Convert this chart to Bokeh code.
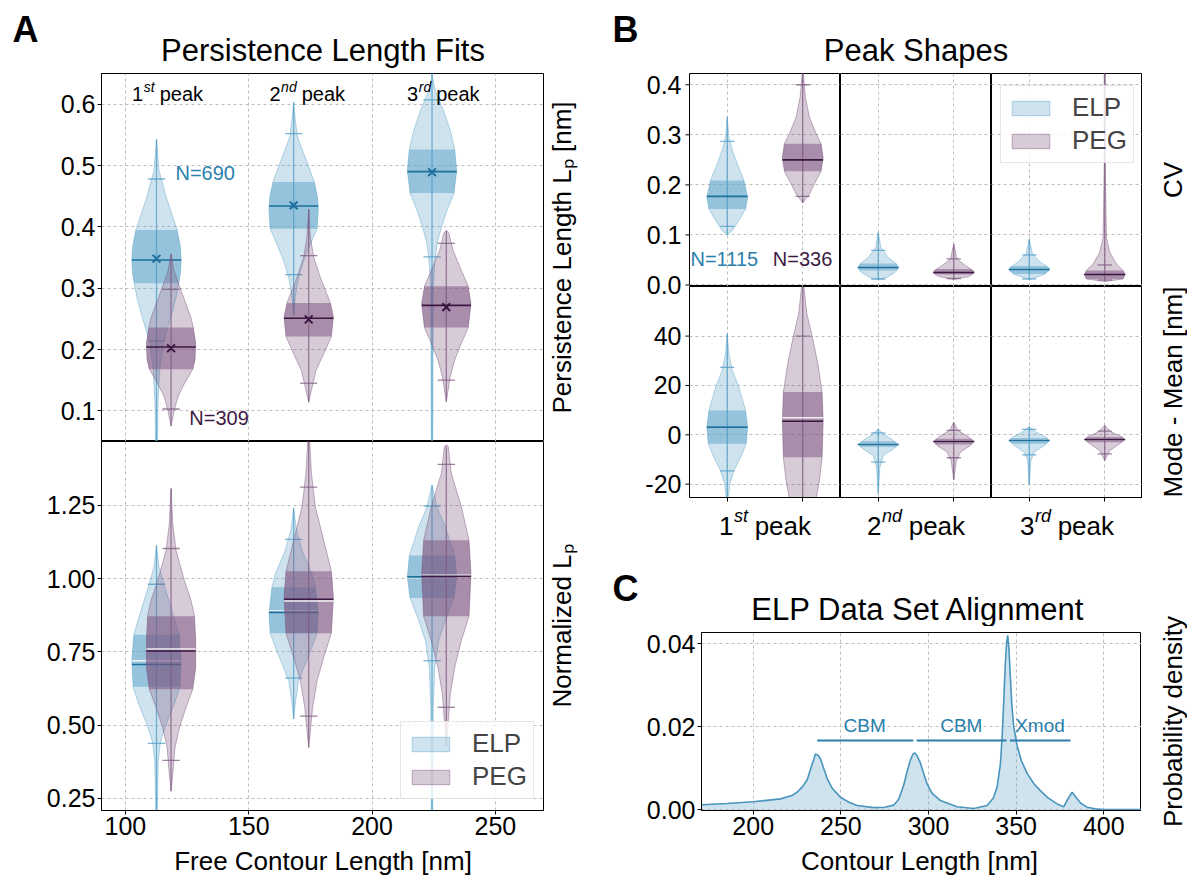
import numpy as np
from bokeh.plotting import figure
from bokeh.models import (Range1d, FixedTicker, Label, Legend, LegendItem, LinearAxis, Grid,
                          PrintfTickFormatter)
from bokeh.layouts import row, column
from bokeh.embed import file_html
from bokeh.resources import INLINE

FONT = "Liberation Sans"
TICK_SIZE = "25px"
LABEL_SIZE = "26px"
TITLE_SIZE = "31px"
LETTER_SIZE = "36px"

ELP_FILL, ELP_LINE, ELP_DARK, ELP_TEXT = "#5ca3c8", "#4f9cc6", "#1d6f9c", "#2a7fab"
PEG_FILL, PEG_LINE, PEG_DARK, PEG_TEXT = "#7a527d", "#7d5a80", "#3b1641", "#3d1a43"
GRID_COLOR = "#bdbdbd"

# ---------------------------------------------------------------- data
PEAK_NUM = ["1", "2", "3"]
PEAK_SUP = ["st", "nd", "rd"]

# Panel A: x = free contour length of each peak [nm]
A_X_ELP = [112.6, 168.2, 224.3]
A_X_PEG = [118.5, 174.3, 230.1]
A_HALF_WIDTH = 10.0
A_N_ELP, A_N_PEG = "N=690", "N=309"
A_PEAK_LABEL_X = [102.7, 158.4, 214.2]
A_PEAK_LABEL_Y = 0.617
A_X_TICKS = [100, 150, 200, 250]
A_TOP_Y_TICKS = [0.1, 0.2, 0.3, 0.4, 0.5, 0.6]
A_BOT_Y_TICKS = [0.25, 0.5, 0.75, 1.0, 1.25]

# Panel A top: persistence length [nm]; outlines (value, relative half width)
A_TOP_ELP_Y = [
    [0.543, 0.492, 0.448, 0.421, 0.395, 0.367, 0.345, 0.324, 0.308, 0.286, 0.264, 0.242, 0.210, 0.166, 0.112, 0.053, 0.0],
    [0.603, 0.573, 0.546, 0.513, 0.473, 0.448, 0.427, 0.397, 0.372, 0.345, 0.318, 0.286, 0.256],
    [0.660, 0.643, 0.622, 0.589, 0.557, 0.526, 0.492, 0.455, 0.427, 0.399, 0.372, 0.340, 0.302, 0.053, 0.0],
]
A_TOP_ELP_W = [
    [0, 0.10, 0.40, 0.62, 0.84, 0.97, 1.0, 0.97, 0.90, 0.80, 0.66, 0.50, 0.27, 0.13, 0.06, 0.04, 0.02],
    [0, 0.07, 0.16, 0.47, 0.84, 0.97, 1.0, 0.95, 0.68, 0.41, 0.20, 0.07, 0],
    [0, 0.02, 0.14, 0.47, 0.74, 0.92, 1.0, 0.89, 0.61, 0.38, 0.20, 0.11, 0.05, 0.03, 0.02],
]
A_TOP_PEG_Y = [
    [0.356, 0.329, 0.302, 0.275, 0.253, 0.236, 0.210, 0.183, 0.168, 0.145, 0.123, 0.101, 0.075],
    [0.429, 0.383, 0.351, 0.318, 0.276, 0.253, 0.221, 0.193, 0.166, 0.139, 0.114],
    [0.394, 0.390, 0.362, 0.329, 0.304, 0.275, 0.236, 0.210, 0.183, 0.156, 0.115],
]
A_TOP_PEG_W = [
    [0, 0.12, 0.35, 0.60, 0.80, 0.90, 1.0, 0.97, 0.88, 0.55, 0.28, 0.13, 0],
    [0, 0.07, 0.20, 0.47, 0.88, 1.0, 0.92, 0.61, 0.30, 0.14, 0],
    [0, 0.10, 0.27, 0.61, 0.88, 1.0, 0.89, 0.61, 0.34, 0.16, 0],
]
A_TOP_ELP_MAX = [0.543, 0.603, 0.66]
A_TOP_ELP_CAPHI = [0.478, 0.552, 0.607]
A_TOP_ELP_Q3 = [0.395, 0.473, 0.526]
A_TOP_ELP_MED = [0.346, 0.434, 0.490]
A_TOP_ELP_MEAN = [0.348, 0.435, 0.489]
A_TOP_ELP_Q1 = [0.308, 0.397, 0.455]
A_TOP_ELP_CAPLO = [0.214, 0.322, 0.351]
A_TOP_ELP_MIN = [0.0, 0.256, 0.0]
A_TOP_PEG_MAX = [0.356, 0.429, 0.394]
A_TOP_PEG_CAPHI = [0.298, 0.353, 0.373]
A_TOP_PEG_Q3 = [0.236, 0.276, 0.303]
A_TOP_PEG_MED = [0.204, 0.251, 0.272]
A_TOP_PEG_MEAN = [0.202, 0.249, 0.269]
A_TOP_PEG_Q1 = [0.168, 0.221, 0.236]
A_TOP_PEG_CAPLO = [0.103, 0.145, 0.150]
A_TOP_PEG_MIN = [0.075, 0.114, 0.115]

# Panel A bottom: normalized persistence length
A_BOT_ELP_Y = [
    [1.114, 1.040, 0.981, 0.926, 0.857, 0.809, 0.720, 0.631, 0.572, 0.515, 0.469, 0.438, 0.378, 0.209, 0.0],
    [1.240, 1.166, 1.097, 1.017, 0.971, 0.880, 0.814, 0.766, 0.709, 0.652, 0.583, 0.521],
    [1.320, 1.245, 1.177, 1.079, 1.006, 0.934, 0.857, 0.789, 0.697, 0.561, 0.209, 0.0],
]
A_BOT_ELP_W = [
    [0, 0.10, 0.30, 0.50, 0.75, 0.92, 1.0, 0.95, 0.72, 0.45, 0.25, 0.15, 0.07, 0.03, 0.02],
    [0, 0.11, 0.34, 0.74, 0.88, 1.0, 0.95, 0.74, 0.47, 0.20, 0.08, 0],
    [0, 0.20, 0.54, 0.92, 1.0, 0.89, 0.54, 0.27, 0.11, 0.05, 0.03, 0.02],
]
A_BOT_PEG_Y = [
    [1.308, 1.188, 1.097, 0.994, 0.926, 0.872, 0.789, 0.697, 0.623, 0.561, 0.492, 0.424, 0.332, 0.275],
    [1.55, 1.468, 1.360, 1.245, 1.131, 1.025, 0.937, 0.814, 0.732, 0.652, 0.561, 0.492, 0.424],
    [1.457, 1.451, 1.360, 1.245, 1.131, 1.017, 0.872, 0.789, 0.697, 0.606, 0.503, 0.429],
]
A_BOT_PEG_W = [
    [0, 0.07, 0.20, 0.54, 0.81, 0.95, 1.0, 1.0, 0.88, 0.61, 0.34, 0.16, 0.07, 0],
    [0, 0.04, 0.11, 0.27, 0.61, 0.92, 1.0, 0.92, 0.61, 0.34, 0.16, 0.08, 0],
    [0, 0.08, 0.20, 0.61, 0.92, 1.0, 0.92, 0.61, 0.34, 0.16, 0.07, 0],
]
A_BOT_ELP_MAX = [1.114, 1.240, 1.320]
A_BOT_ELP_CAPHI = [0.981, 1.134, 1.248]
A_BOT_ELP_Q3 = [0.809, 0.971, 1.079]
A_BOT_ELP_MED = [0.707, 0.885, 1.006]
A_BOT_ELP_MEAN = [0.720, 0.890, 1.003]
A_BOT_ELP_Q1 = [0.631, 0.814, 0.934]
A_BOT_ELP_CAPLO = [0.438, 0.661, 0.720]
A_BOT_ELP_MIN = [0.0, 0.521, 0.0]
A_BOT_PEG_MAX = [1.308, 1.55, 1.451]
A_BOT_PEG_CAPHI = [1.103, 1.312, 1.390]
A_BOT_PEG_Q3 = [0.872, 1.025, 1.131]
A_BOT_PEG_MED = [0.753, 0.930, 1.008]
A_BOT_PEG_MEAN = [0.760, 0.924, 1.012]
A_BOT_PEG_Q1 = [0.623, 0.814, 0.872]
A_BOT_PEG_CAPLO = [0.380, 0.531, 0.561]
A_BOT_PEG_MIN = [0.275, 0.424, 0.429]

# Panel B: ELP at x=0, PEG at x=1 in each peak column
B_HALF_WIDTH = 0.27
B_N_ELP, B_N_PEG = "N=1115", "N=336"
B_TOP_TICKS = [0.0, 0.1, 0.2, 0.3, 0.4]
B_TOP_TICK_LABELS = ["0.0", "0.1", "0.2", "0.3", "0.4"]
B_BOT_TICKS = [-20, 0, 20, 40]
B_BOT_TICK_LABELS = ["-20", "0", "20", "40"]
B_TOP_ELP_Y = [
    [0.335, 0.295, 0.269, 0.242, 0.209, 0.175, 0.152, 0.129, 0.109, 0.100],
    [0.105, 0.075, 0.055, 0.042, 0.034, 0.025, 0.015, 0.011],
    [0.092, 0.062, 0.045, 0.035, 0.030, 0.021, 0.011],
]
B_TOP_ELP_W = [
    [0, 0.08, 0.25, 0.49, 0.82, 1.0, 0.90, 0.57, 0.25, 0],
    [0, 0.13, 0.49, 0.90, 1.0, 0.82, 0.41, 0],
    [0, 0.16, 0.57, 0.95, 1.0, 0.74, 0],
]
B_TOP_PEG_Y = [
    [0.43, 0.421, 0.375, 0.335, 0.302, 0.282, 0.255, 0.227, 0.202, 0.182, 0.164],
    [0.082, 0.052, 0.039, 0.029, 0.024, 0.017, 0.011],
    [0.43, 0.229, 0.095, 0.065, 0.042, 0.029, 0.021, 0.012, 0.007],
]
B_TOP_PEG_W = [
    [0, 0.03, 0.13, 0.33, 0.66, 0.90, 1.0, 0.90, 0.57, 0.33, 0],
    [0, 0.16, 0.57, 0.95, 1.0, 0.74, 0],
    [0.03, 0.03, 0.08, 0.25, 0.57, 0.90, 1.0, 0.90, 0],
]
B_TOP_ELP_MAX = [0.335, 0.105, 0.092]
B_TOP_ELP_CAPHI = [0.287, 0.069, 0.060]
B_TOP_ELP_Q3 = [0.209, 0.043, 0.038]
B_TOP_ELP_MED = [0.177, 0.035, 0.031]
B_TOP_ELP_Q1 = [0.152, 0.029, 0.022]
B_TOP_ELP_CAPLO = [0.117, 0.012, 0.012]
B_TOP_ELP_MIN = [0.100, 0.011, 0.011]
B_TOP_PEG_MAX = [0.43, 0.082, 0.43]
B_TOP_PEG_CAPHI = [0.400, 0.052, 0.040]
B_TOP_PEG_Q3 = [0.282, 0.032, 0.029]
B_TOP_PEG_MED = [0.250, 0.025, 0.021]
B_TOP_PEG_Q1 = [0.227, 0.021, 0.012]
B_TOP_PEG_CAPLO = [0.177, 0.013, 0.010]
B_TOP_PEG_MIN = [0.164, 0.011, 0.007]

B_BOT_ELP_Y = [
    [40.9, 32.8, 26.1, 19.3, 9.9, 3.1, -3.6, -9.1, -14.5, -19.9, -25.5, -35.0],
    [2.4, 0.4, -2.3, -3.9, -5.7, -8.4, -13.1, -23.9],
    [3.4, 1.1, -0.9, -2.3, -4.3, -7.0, -10.4, -20.1],
]
B_BOT_ELP_W = [
    [0, 0.08, 0.25, 0.57, 0.90, 1.0, 0.93, 0.66, 0.33, 0.13, 0.05, 0],
    [0, 0.25, 0.74, 1.0, 0.74, 0.25, 0.08, 0],
    [0, 0.33, 0.82, 1.0, 0.74, 0.25, 0.08, 0],
]
B_BOT_PEG_Y = [
    [62.0, 60.5, 49.1, 40.0, 28.8, 17.3, 5.8, -9.1, -18.5, -25.5, -32.0, -40.1],
    [5.1, 1.8, -0.9, -2.7, -4.3, -7.0, -10.4, -18.2],
    [3.8, 1.1, -0.7, -1.9, -3.6, -6.4, -10.4],
]
B_BOT_PEG_W = [
    [0, 0.05, 0.20, 0.46, 0.74, 0.95, 1.0, 0.95, 0.82, 0.66, 0.41, 0],
    [0, 0.20, 0.74, 1.0, 0.82, 0.33, 0.13, 0],
    [0, 0.33, 0.82, 1.0, 0.74, 0.25, 0],
]
B_BOT_ELP_MAX = [40.9, 2.4, 3.4]
B_BOT_ELP_CAPHI = [27.3, 0.8, 2.2]
B_BOT_ELP_Q3 = [9.9, -2.6, -1.3]
B_BOT_ELP_MED = [3.1, -3.9, -2.3]
B_BOT_ELP_MEAN = [3.1, -3.9, -2.3]
B_BOT_ELP_Q1 = [-3.6, -4.9, -3.6]
B_BOT_ELP_CAPLO = [-14.6, -11.1, -8.1]
B_BOT_ELP_MIN = [-35.0, -23.9, -20.1]
B_BOT_PEG_MAX = [62.0, 5.1, 3.8]
B_BOT_PEG_CAPHI = [40.0, 1.8, 1.5]
B_BOT_PEG_Q3 = [17.3, -1.6, -0.9]
B_BOT_PEG_MED = [5.5, -2.7, -1.9]
B_BOT_PEG_MEAN = [6.9, -2.7, -1.9]
B_BOT_PEG_Q1 = [-9.1, -3.9, -3.0]
B_BOT_PEG_CAPLO = [-40.0, -9.3, -7.7]
B_BOT_PEG_MIN = [-45.0, -18.2, -10.4]

# Panel C: ELP contour length density
C_X = [170.5, 185, 200, 215.6, 222, 225, 228, 230.8, 232.5, 234.6, 235.5, 236.8, 238.4, 240, 242.2, 245,
       249.8, 255, 259.3, 268.8, 275, 280.2, 283, 285.9, 288, 289.7, 291, 292.1, 293.5, 295.4, 297, 299.2,
       302, 306.8, 316.3, 325.8, 333.4, 337, 339.1, 341, 342, 343, 343.8, 344.6, 345.2, 345.9, 346.7, 347.5,
       348.6, 350.5, 353, 356.2, 360, 363.8, 368, 373.3, 377.1, 379, 381.9, 384.7, 387, 390.4, 395, 400, 421.5]
C_Y = [0.0012, 0.0015, 0.0019, 0.0026, 0.0034, 0.0042, 0.0055, 0.0072, 0.0095, 0.0122, 0.0134, 0.0132, 0.0122,
       0.0102, 0.0075, 0.0052, 0.0030, 0.0017, 0.0010, 0.0005, 0.0006, 0.0011, 0.0025, 0.0060, 0.0095, 0.0120,
       0.0133, 0.0137, 0.0130, 0.0112, 0.0090, 0.0062, 0.0040, 0.0022, 0.0007, 0.0003, 0.0010, 0.0028, 0.0054,
       0.0110, 0.0175, 0.0270, 0.0350, 0.0405, 0.0420, 0.0385, 0.0320, 0.0255, 0.0200, 0.0155, 0.0118, 0.0088,
       0.0063, 0.0046, 0.0029, 0.0014, 0.0007, 0.0022, 0.0042, 0.0027, 0.0015, 0.0006, 0.0002, 0.0, 0.0]
C_X_TICKS = [200, 250, 300, 350, 400]
C_Y_TICKS = [0.0, 0.02, 0.04]
C_SEG_X0 = [236.5, 293.2, 346.4]
C_SEG_X1 = [291.3, 344.5, 381.0]
C_SEG_Y = 0.0167
C_SEG_LABELS = ["CBM", "CBM", "Xmod"]
C_SEG_LABEL_X = [263.6, 318.7, 363.6]
C_SEG_LABEL_Y = 0.0202

SUP_EM = {"st": 0.778, "nd": 1.112, "rd": 0.889}

# ---------------------------------------------------------------- geometry (px)
A_FW, A_TOP_FH, A_BOT_FH, A_ML, A_RW = 443, 368, 369, 101, 66
HDR_H, FOOT_H, AX_B = 73, 32, 35
B_FW, B_TOP_FH, B_BOT_FH, B_LW, B_RW, B_TICK_B = 151, 213, 211, 79, 45, 8
B_LBL_H, C_HDR_H, C_MT = 45, 82, 6
C_FW, C_FH, C_ML, C_RW = 440, 178, 91, 46
RIGHT_W = B_LW + 3 * B_FW + B_RW
LEFT_W = A_ML + A_FW + A_RW
B_TOP_YR = (-0.003, 0.4225)
B_BOT_YR = (-25.4, 60.1)


# ---------------------------------------------------------------- helpers
def base_fig(fw, fh, ml, mr, mt, mb, xr, yr):
    p = figure(frame_width=fw, frame_height=fh, x_range=Range1d(*xr), y_range=Range1d(*yr),
               x_axis_location=None, y_axis_location=None, toolbar_location=None, title=None,
               output_backend="svg", min_border_left=ml, min_border_right=mr,
               min_border_top=mt, min_border_bottom=mb)
    p.center = [r for r in p.center if not isinstance(r, Grid)]
    p.outline_line_color = "black"
    p.outline_line_width = 1
    p.outline_line_alpha = 1
    p.background_fill_color = "white"
    p.border_fill_color = "white"
    return p


def text_fig(w, h):
    p = figure(frame_width=w, frame_height=h, x_range=Range1d(0, w), y_range=Range1d(0, h),
               x_axis_location=None, y_axis_location=None, toolbar_location=None, title=None,
               output_backend="svg", min_border_left=0, min_border_right=0,
               min_border_top=0, min_border_bottom=0)
    p.center = [r for r in p.center if not isinstance(r, Grid)]
    p.outline_line_color = None
    p.background_fill_color = "white"
    p.border_fill_color = "white"
    return p


def add_axis(p, side, ticks, fmt=None, labels=True):
    ax = LinearAxis(ticker=FixedTicker(ticks=ticks))
    ax.major_tick_out = 4
    ax.major_tick_in = 0
    ax.minor_tick_out = 0
    ax.minor_tick_in = 0
    ax.major_tick_line_color = "black"
    ax.axis_line_color = "black"
    ax.major_label_standoff = 2
    ax.major_label_text_font = FONT
    ax.major_label_text_font_size = TICK_SIZE
    ax.major_label_text_color = "black"
    if fmt:
        ax.formatter = PrintfTickFormatter(format=fmt)
    if not labels:
        ax.major_label_text_font_size = "0px"
        ax.major_label_standoff = 0
        ax.major_label_overrides = {t: "" for t in ticks}
    p.add_layout(ax, side)
    return ax


def add_grid(p, dim, ticks):
    g = Grid(dimension=dim, ticker=FixedTicker(ticks=ticks), grid_line_color=GRID_COLOR,
             grid_line_dash="3 3", grid_line_width=1)
    p.add_layout(g, "center")


def lab(p, x, y, text, size=LABEL_SIZE, color="black", align="center", baseline="middle",
        angle=0.0, style="normal", xo=0, yo=0, yrn="default"):
    p.add_layout(Label(x=x, y=y, text=text, text_font=FONT, y_range_name=yrn,
                       text_font_size=size, text_color=color, text_align=align,
                       text_baseline=baseline, angle=angle, text_font_style=style,
                       x_offset=xo, y_offset=yo))


def peak_text(p, x, y, num, sup, size, align="left"):
    ssz = round(size * 0.7)
    w_num = 0.556 * size * len(num)
    w_sup = SUP_EM[sup] * ssz
    gap = 0.278 * size
    w_rest = 2.168 * size
    total = w_num + w_sup + gap + w_rest
    x0 = 0 if align == "left" else -total / 2
    lab(p, x, y, num, size=f"{size}px", align="left", xo=x0)
    lab(p, x, y, sup, size=f"{ssz}px", align="left", xo=x0 + w_num + 0.5, yo=0.36 * size,
        style="italic")
    lab(p, x, y, "peak", size=f"{size}px", align="left", xo=x0 + w_num + w_sup + gap)


def violin(p, xc, ys, ws, H, q1, q3, med, vmin, vmax, clo, chi, fill, line, dark,
           mean=None, mean_x=False, mean_line=False):
    ys = np.asarray(ys, float)
    ws = np.asarray(ws, float)
    px = np.concatenate([xc + ws * H, (xc - ws * H)[::-1]])
    py = np.concatenate([ys, ys[::-1]])
    body = p.patch(px, py, fill_color=fill, fill_alpha=0.3, line_color=fill, line_alpha=0.45,
                   line_width=1)
    o = np.argsort(ys)
    ys_s, ws_s = ys[o], ws[o]
    m = (ys_s > q1) & (ys_s < q3)
    by = np.concatenate([[q1], ys_s[m], [q3]])
    bw = np.interp(by, ys_s, ws_s)
    p.patch(np.concatenate([xc + bw * H, (xc - bw * H)[::-1]]), np.concatenate([by, by[::-1]]),
            fill_color=fill, fill_alpha=0.5, line_color=None)
    p.segment([xc], [vmin], [xc], [vmax], line_color=line, line_alpha=0.75, line_width=1.3)
    cw = 0.35 * H
    p.segment([xc - cw, xc - cw], [clo, chi], [xc + cw, xc + cw], [clo, chi],
              line_color=line, line_alpha=0.75, line_width=1.3)
    if mean_line and mean is not None:
        p.segment([xc - H], [mean], [xc + H], [mean], line_color="white", line_alpha=0.85,
                  line_width=1.5)
    p.segment([xc - H], [med], [xc + H], [med], line_color=dark, line_width=1.6)
    if mean_x and mean is not None:
        p.scatter([xc], [mean], marker="x", size=11, line_color=dark, line_width=2)
    return body


def make_legend(p, r_elp, r_peg, x, y):
    leg = Legend(items=[LegendItem(label="ELP", renderers=[r_elp]),
                        LegendItem(label="PEG", renderers=[r_peg])], location=(x, y))
    leg.label_text_font = FONT
    leg.label_text_font_size = LABEL_SIZE
    leg.glyph_width = 47
    leg.glyph_height = 18
    leg.label_standoff = 18
    leg.padding = 6
    leg.spacing = 2
    leg.margin = 0
    leg.border_line_color = "#cccccc"
    leg.border_line_width = 1
    leg.background_fill_alpha = 0.8
    p.add_layout(leg)


# ---------------------------------------------------------------- panel A
hdr_a = text_fig(LEFT_W, HDR_H)
lab(hdr_a, 12, HDR_H - 28.5, "A", size=LETTER_SIZE, align="left", style="bold")
lab(hdr_a, A_ML + A_FW / 2, HDR_H - 50, "Persistence Length Fits", size=TITLE_SIZE)

a_top = base_fig(A_FW, A_TOP_FH, A_ML, 0, 0, 0, (90.3, 269.9), (0.05, 0.65))
add_axis(a_top, "left", A_TOP_Y_TICKS, fmt="%.1f")
add_grid(a_top, 0, A_X_TICKS)
add_grid(a_top, 1, A_TOP_Y_TICKS)
for i in range(3):
    violin(a_top, A_X_ELP[i], A_TOP_ELP_Y[i], A_TOP_ELP_W[i], A_HALF_WIDTH, A_TOP_ELP_Q1[i],
           A_TOP_ELP_Q3[i], A_TOP_ELP_MED[i], A_TOP_ELP_MIN[i], A_TOP_ELP_MAX[i], A_TOP_ELP_CAPLO[i],
           A_TOP_ELP_CAPHI[i], ELP_FILL, ELP_LINE, ELP_DARK, mean=A_TOP_ELP_MEAN[i], mean_x=True)
for i in range(3):
    violin(a_top, A_X_PEG[i], A_TOP_PEG_Y[i], A_TOP_PEG_W[i], A_HALF_WIDTH, A_TOP_PEG_Q1[i],
           A_TOP_PEG_Q3[i], A_TOP_PEG_MED[i], A_TOP_PEG_MIN[i], A_TOP_PEG_MAX[i], A_TOP_PEG_CAPLO[i],
           A_TOP_PEG_CAPHI[i], PEG_FILL, PEG_LINE, PEG_DARK, mean=A_TOP_PEG_MEAN[i], mean_x=True)
for i in range(3):
    peak_text(a_top, A_PEAK_LABEL_X[i], A_PEAK_LABEL_Y, PEAK_NUM[i], PEAK_SUP[i], 20)
lab(a_top, 120.3, 0.4875, A_N_ELP, size="20px", color=ELP_TEXT, align="left")
lab(a_top, 125.9, 0.089, A_N_PEG, size="20px", color=PEG_TEXT, align="left")

r_a_top = text_fig(A_RW, A_TOP_FH)
lab(r_a_top, 17, A_TOP_FH / 2, "Persistence Length Lₚ [nm]", angle=np.pi / 2)

a_bot = base_fig(A_FW, A_BOT_FH, A_ML, 0, 0, AX_B, (90.3, 269.9), (0.209, 1.468))
add_axis(a_bot, "left", A_BOT_Y_TICKS, fmt="%.2f")
add_axis(a_bot, "below", A_X_TICKS)
add_grid(a_bot, 0, A_X_TICKS)
add_grid(a_bot, 1, A_BOT_Y_TICKS)
elp_bodies = []
for i in range(3):
    elp_bodies.append(violin(a_bot, A_X_ELP[i], A_BOT_ELP_Y[i], A_BOT_ELP_W[i], A_HALF_WIDTH,
                             A_BOT_ELP_Q1[i], A_BOT_ELP_Q3[i], A_BOT_ELP_MED[i], A_BOT_ELP_MIN[i],
                             A_BOT_ELP_MAX[i], A_BOT_ELP_CAPLO[i], A_BOT_ELP_CAPHI[i], ELP_FILL,
                             ELP_LINE, ELP_DARK, mean=A_BOT_ELP_MEAN[i], mean_line=True))
peg_bodies = []
for i in range(3):
    peg_bodies.append(violin(a_bot, A_X_PEG[i], A_BOT_PEG_Y[i], A_BOT_PEG_W[i], A_HALF_WIDTH,
                             A_BOT_PEG_Q1[i], A_BOT_PEG_Q3[i], A_BOT_PEG_MED[i], A_BOT_PEG_MIN[i],
                             A_BOT_PEG_MAX[i], A_BOT_PEG_CAPLO[i], A_BOT_PEG_CAPHI[i], PEG_FILL,
                             PEG_LINE, PEG_DARK, mean=A_BOT_PEG_MEAN[i], mean_line=True))
make_legend(a_bot, elp_bodies[0], peg_bodies[0], 299, 11)

r_a_bot = text_fig(A_RW, A_BOT_FH + AX_B)
lab(r_a_bot, 17, AX_B + A_BOT_FH / 2, "Normalized Lₚ", angle=np.pi / 2)

foot_a = text_fig(LEFT_W, FOOT_H)
lab(foot_a, A_ML + A_FW / 2, 17, "Free Contour Length [nm]")

left_col = column(hdr_a, row(a_top, r_a_top), row(a_bot, r_a_bot), foot_a)

# ---------------------------------------------------------------- panel B
# left strip (panel letter + tick labels of both rows, so 0.0 can straddle the row boundary)
strip_h = HDR_H + B_TOP_FH + B_BOT_FH + B_TICK_B
top_per_px = (B_TOP_YR[1] - B_TOP_YR[0]) / B_TOP_FH
bot_per_px = (B_BOT_YR[1] - B_BOT_YR[0]) / B_BOT_FH
b_left = figure(frame_width=B_LW, frame_height=strip_h, x_range=Range1d(0, B_LW),
                y_range=Range1d(B_TOP_YR[0] - (B_BOT_FH + B_TICK_B) * top_per_px,
                                B_TOP_YR[1] + HDR_H * top_per_px),
                x_axis_location=None, y_axis_location=None, toolbar_location=None, title=None,
                output_backend="svg", min_border_left=0, min_border_right=0,
                min_border_top=0, min_border_bottom=0)
b_left.extra_y_ranges = {
    "bot": Range1d(B_BOT_YR[0] - B_TICK_B * bot_per_px,
                   B_BOT_YR[1] + (B_TOP_FH + HDR_H) * bot_per_px),
    "px": Range1d(0, strip_h),
}
b_left.center = [r for r in b_left.center if not isinstance(r, Grid)]
b_left.outline_line_color = None
b_left.segment([B_LW - 4] * len(B_TOP_TICKS), B_TOP_TICKS, [B_LW] * len(B_TOP_TICKS), B_TOP_TICKS,
               line_color="black", line_width=1)
b_left.segment([B_LW - 4] * len(B_BOT_TICKS), B_BOT_TICKS, [B_LW] * len(B_BOT_TICKS), B_BOT_TICKS,
               line_color="black", line_width=1, y_range_name="bot")
for t, s in zip(B_TOP_TICKS, B_TOP_TICK_LABELS):
    lab(b_left, B_LW - 8, t, s, size=TICK_SIZE, align="right")
for t, s in zip(B_BOT_TICKS, B_BOT_TICK_LABELS):
    lab(b_left, B_LW - 8, t, s, size=TICK_SIZE, align="right", yrn="bot")
lab(b_left, 2, strip_h - 28.5, "B", size=LETTER_SIZE, align="left", style="bold", yrn="px")

hdr_b = text_fig(RIGHT_W - B_LW, HDR_H)
lab(hdr_b, 1.5 * B_FW, HDR_H - 50, "Peak Shapes", size=TITLE_SIZE)

b_top_figs, b_bot_figs = [], []
for r in range(2):
    for c in range(3):
        fh = B_TOP_FH if r == 0 else B_BOT_FH
        mb = 0 if r == 0 else B_TICK_B
        yr = B_TOP_YR if r == 0 else B_BOT_YR
        yt = B_TOP_TICKS if r == 0 else B_BOT_TICKS
        p = base_fig(B_FW, fh, 0, 0, 0, mb, (-0.5, 1.5), yr)
        add_grid(p, 0, [0, 1])
        add_grid(p, 1, yt)
        if r == 1:
            add_axis(p, "below", [0, 1], labels=False)
        if r == 0:
            be = violin(p, 0, B_TOP_ELP_Y[c], B_TOP_ELP_W[c], B_HALF_WIDTH, B_TOP_ELP_Q1[c],
                        B_TOP_ELP_Q3[c], B_TOP_ELP_MED[c], B_TOP_ELP_MIN[c], B_TOP_ELP_MAX[c],
                        B_TOP_ELP_CAPLO[c], B_TOP_ELP_CAPHI[c], ELP_FILL, ELP_LINE, ELP_DARK)
            bp = violin(p, 1, B_TOP_PEG_Y[c], B_TOP_PEG_W[c], B_HALF_WIDTH, B_TOP_PEG_Q1[c],
                        B_TOP_PEG_Q3[c], B_TOP_PEG_MED[c], B_TOP_PEG_MIN[c], B_TOP_PEG_MAX[c],
                        B_TOP_PEG_CAPLO[c], B_TOP_PEG_CAPHI[c], PEG_FILL, PEG_LINE, PEG_DARK)
            if c == 0:
                lab(p, -0.487, 0.052, B_N_ELP, size="20px", color=ELP_TEXT, align="left")
                lab(p, 0.603, 0.052, B_N_PEG, size="20px", color=PEG_TEXT, align="left")
            if c == 2:
                make_legend(p, be, bp, 9, 123)
            b_top_figs.append(p)
        else:
            violin(p, 0, B_BOT_ELP_Y[c], B_BOT_ELP_W[c], B_HALF_WIDTH, B_BOT_ELP_Q1[c],
                   B_BOT_ELP_Q3[c], B_BOT_ELP_MED[c], B_BOT_ELP_MIN[c], B_BOT_ELP_MAX[c],
                   B_BOT_ELP_CAPLO[c], B_BOT_ELP_CAPHI[c], ELP_FILL, ELP_LINE, ELP_DARK,
                   mean=B_BOT_ELP_MEAN[c], mean_line=True)
            violin(p, 1, B_BOT_PEG_Y[c], B_BOT_PEG_W[c], B_HALF_WIDTH, B_BOT_PEG_Q1[c],
                   B_BOT_PEG_Q3[c], B_BOT_PEG_MED[c], B_BOT_PEG_MIN[c], B_BOT_PEG_MAX[c],
                   B_BOT_PEG_CAPLO[c], B_BOT_PEG_CAPHI[c], PEG_FILL, PEG_LINE, PEG_DARK,
                   mean=B_BOT_PEG_MEAN[c], mean_line=True)
            b_bot_figs.append(p)

r_b_top = text_fig(B_RW, B_TOP_FH)
lab(r_b_top, 30, B_TOP_FH / 2, "CV", angle=np.pi / 2)
r_b_bot = text_fig(B_RW, B_BOT_FH + B_TICK_B)
lab(r_b_bot, 30, B_TICK_B + B_BOT_FH / 2, "Mode - Mean [nm]", angle=np.pi / 2)

b_lbl = text_fig(RIGHT_W, B_LBL_H)
for c in range(3):
    peak_text(b_lbl, B_LW + (c + 0.5) * B_FW, B_LBL_H - 20, PEAK_NUM[c], PEAK_SUP[c], 26,
              align="center")

b_block = row(b_left, column(hdr_b, row(*b_top_figs, r_b_top), row(*b_bot_figs, r_b_bot)))

# ---------------------------------------------------------------- panel C
hdr_h_c = C_HDR_H - C_MT
hdr_c = text_fig(RIGHT_W - C_RW, hdr_h_c)
lab(hdr_c, 2, hdr_h_c - 38, "C", size=LETTER_SIZE, align="left", style="bold")
lab(hdr_c, C_ML + C_FW / 2 - 3, hdr_h_c - 59, "ELP Data Set Alignment", size=TITLE_SIZE)

pc = base_fig(C_FW, C_FH, C_ML, 0, C_MT, AX_B, (170.5, 421.5), (-0.0002, 0.0427))
add_axis(pc, "left", C_Y_TICKS, fmt="%.2f")
add_axis(pc, "below", C_X_TICKS)
add_grid(pc, 0, C_X_TICKS)
add_grid(pc, 1, C_Y_TICKS)
pc.varea(x=C_X, y1=[0.0] * len(C_X), y2=C_Y, fill_color=ELP_FILL, fill_alpha=0.3)
pc.line(C_X, C_Y, line_color="#4a95bd", line_width=1.6)
pc.segment(C_SEG_X0, [C_SEG_Y] * 3, C_SEG_X1, [C_SEG_Y] * 3, line_color=ELP_TEXT, line_width=2)
for i in range(3):
    lab(pc, C_SEG_LABEL_X[i], C_SEG_LABEL_Y, C_SEG_LABELS[i], size="19px", color=ELP_TEXT)

r_c = text_fig(C_RW, C_HDR_H + C_FH + AX_B)
lab(r_c, 31, AX_B + C_FH / 2, "Probability density", angle=np.pi / 2)

foot_c = text_fig(RIGHT_W, FOOT_H)
lab(foot_c, C_ML + C_FW / 2 - 2, 17, "Contour Length [nm]")

c_block = row(column(row(hdr_c), row(pc)), r_c)
right_col = column(b_block, b_lbl, c_block, foot_c)

layout = row(left_col, right_col)

open("out.html", "w").write(file_html(layout, INLINE))
